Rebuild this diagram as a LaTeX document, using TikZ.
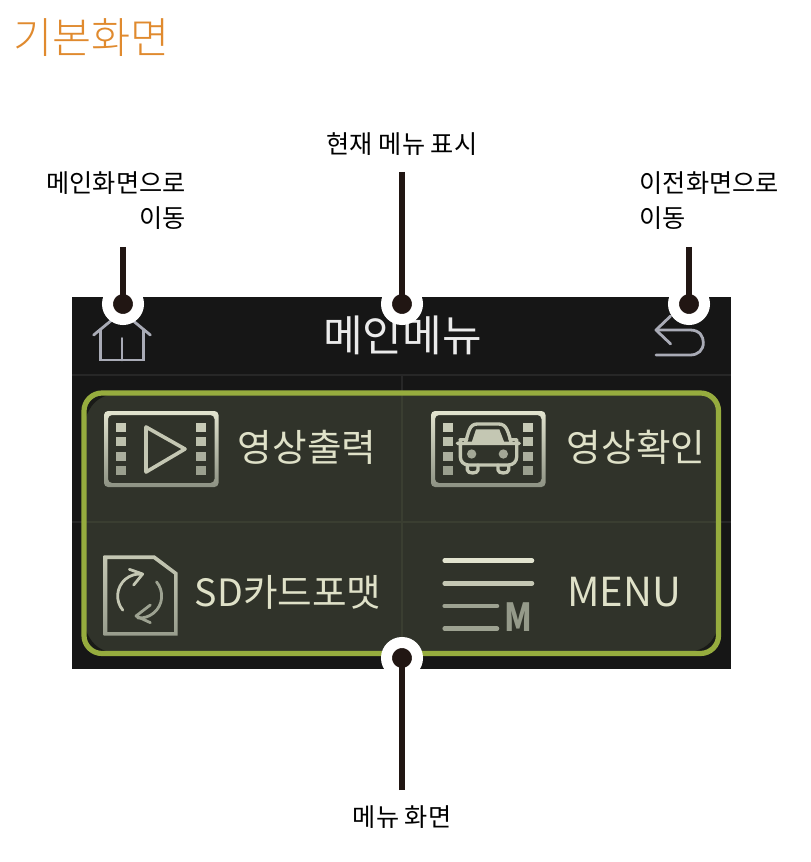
\documentclass[tikz,border=0pt]{standalone}
\usepackage{fontspec}
\setmainfont{Noto Sans CJK KR}
\newfontfamily\lightcjk{Noto Sans CJK KR Light}
\definecolor{panelbg}{HTML}{161616}
\definecolor{cellbg}{HTML}{30332A}
\definecolor{gridin}{HTML}{3A3E31}
\definecolor{gridout}{HTML}{272727}
\definecolor{limegreen}{HTML}{96AC3E}
\definecolor{markblack}{HTML}{211613}
\definecolor{titleorange}{HTML}{E08A2E}
\definecolor{creamtext}{HTML}{DFE1C8}
\definecolor{icona}{HTML}{E2E4CF}
\definecolor{iconb}{HTML}{8D9283}
\definecolor{iconc}{HTML}{C4C7B3}
\definecolor{greyicon}{HTML}{A9ABB6}
\definecolor{cornershade}{HTML}{191A17}
\tikzset{
  marker/.style={circle,inner sep=0pt,minimum size=23.25pt,fill=markblack,draw=white,line width=8.25pt},
  leader/.style={draw=markblack,line width=4.2pt},
  callout/.style={inner sep=0pt,font=\fontsize{18.9}{26.2}\selectfont,text=black},
  menutext/.style={inner sep=0pt,text=creamtext,font=\fontsize{28.2}{30}\selectfont},
  iconline/.style={draw=iconc,line width=2.5pt,line cap=round,line join=round},
  homeline/.style={draw=greyicon,line width=2.1pt,line cap=round,line join=miter},
}
\newcommand{\filmframe}[1]{%
  \begin{scope}[shift={(#1,0)}]
  \shade[top color=icona,bottom color=iconb,even odd rule,rounded corners=3pt]
    (0,411) rectangle (114.5,487) (4,415) rectangle (110.5,483);
  \foreach \yy/\cc in {423/C8CBB7,437/BCC0AC,452/ABAF9E,466/9A9F8E}{
    \definecolor{sqc}{HTML}{\cc}
    \fill[sqc] (12,\yy) rectangle (21.5,\yy+8.5);
    \fill[sqc] (92,\yy) rectangle (101.5,\yy+8.5);
  }
  \end{scope}}
\begin{document}
\begin{tikzpicture}[x=.75pt,y=-.75pt]
\useasboundingbox[fill=white] (0,0) rectangle (810,862);
% title
\node[anchor=west,inner sep=0pt,text=titleorange,font=\lightcjk\fontsize{31.9}{34}\selectfont] (title) at (13,38) {기본화면};
% panel
\fill[panelbg] (72,297) rectangle (731,669);
\draw[gridout,line width=.9pt] (72,375) -- (731,375);
\draw[gridout,line width=.9pt] (402,375) -- (402,669);
\draw[gridout,line width=.9pt] (72,522) -- (731,522);
\fill[cellbg,rounded corners=13.5pt] (84,393) rectangle (718.5,653.5);
\draw[gridin,line width=.9pt] (402,393) -- (402,653);
\draw[gridin,line width=.9pt] (84,522) -- (718,522);
% inner shadow at the corners
\fill[cornershade] (85,420) .. controls (85,402) and (93,394) .. (112,394) .. controls (98,397) and (90,404) .. (85,420) -- cycle;
\fill[cornershade] (85,628) .. controls (85,645) and (93,652) .. (110,652) .. controls (98,650) and (90,642) .. (85,628) -- cycle;
\fill[cornershade] (717,630) .. controls (717,645) and (709,652) .. (690,652) .. controls (704,650) and (713,643) .. (717,630) -- cycle;
\draw[limegreen,line width=3.9pt,rounded corners=13.5pt] (84,393) rectangle (718.5,653.5);
% home icon
\begin{scope}[shift={(72,280)},x=.25pt,y=-.25pt]
\draw[homeline] (65,165) -- (150,95) -- (235,165);
\draw[homeline] (85,148) -- (85,240) -- (215,240) -- (215,148);
\draw[homeline] (150,175) -- (150,240);
\end{scope}
% back icon
\begin{scope}[shift={(400,280)},x=.25pt,y=-.25pt]
\draw[homeline,line join=round] (812,108) -- (768,150) -- (812,192);
\draw[homeline] (768,150) -- (870,150) .. controls (900,150) and (910,170) .. (910,188) .. controls (910,210) and (895,225) .. (870,225) -- (768,225);
\end{scope}
% header
\node[inner sep=0pt,text=white!92!black,font=\fontsize{32.3}{34}\selectfont] (header) at (402.5,335) {메인메뉴};
% film frame 1
\filmframe{104}
\draw[iconline,line width=2.7pt] (146,427) -- (185,449) -- (146,472) -- cycle;
\node[menutext] (t1) at (307,447) {영상출력};
% film frame 2 with car
\filmframe{431}
\begin{scope}[shift={(400,280)},x=.25pt,y=-.25pt]
\fill[iconc] (214,490) -- (228,448) -- (298,448) -- (314,490) -- cycle;
\draw[iconline] (196,490) .. controls (206,455) and (208,432) .. (232,432) -- (296,432) .. controls (320,432) and (324,455) .. (334,490);
\draw[iconline,rounded corners=6pt] (181,555) -- (181,505) .. controls (181,495) and (190,490) .. (196,490) -- (334,490) .. controls (342,490) and (350,495) .. (350,505) -- (350,555) -- cycle;
\draw[iconline] (180,478) -- (200,478) (330,478) -- (350,478);
\draw[iconline] (202,555) -- (202,570) .. controls (202,582) and (234,582) .. (234,570) -- (234,555);
\draw[iconline] (294,555) -- (294,570) .. controls (294,582) and (326,582) .. (326,570) -- (326,555);
\fill[iconb!60!iconc] (215,522) circle (14);
\fill[iconb!60!iconc] (310,522) circle (14);
\end{scope}
\node[menutext] (t2) at (636,447) {영상확인};
% SD icon
\begin{scope}[shift={(72,510)},x=.25pt,y=-.25pt]
\shade[top color=iconc,bottom color=iconb!80!iconc,even odd rule]
 (95,136) -- (248,136) -- (317,188) -- (317,377) -- (95,377) -- cycle
 (106,147) -- (244,147) -- (306,193) -- (306,366) -- (106,366) -- cycle;
\draw[iconline,line width=2.1pt] (152.4,300.4) arc[start angle=140,end angle=275,radius=66];
\draw[iconline,line width=2.1pt] (172,178) -- (212,192) -- (185,225);
\draw[iconline,line width=2.1pt,draw=iconb!70!iconc] (253.6,215.6) arc[start angle=320,end angle=455,radius=66];
\draw[iconline,line width=2.1pt,draw=iconb!70!iconc] (235,285) -- (192,318) -- (235,338);
\end{scope}
\node[menutext,anchor=west] (t3) at (194.5,592) {SD카드포맷};
% menu icon
\begin{scope}[shift={(400,510)},x=.25pt,y=-.25pt]
\draw[line width=3.4pt,line cap=round,draw=icona] (134,152) -- (396,152);
\draw[line width=3.4pt,line cap=round,draw=iconc] (134,220) -- (396,220);
\draw[line width=3.4pt,line cap=round,draw=iconb!70!iconc] (134,288) -- (291,288);
\draw[line width=3.4pt,line cap=round,draw=iconb!70!iconc] (134,356) -- (291,356);
\node[inner sep=0pt,text=iconb!85!iconc,xscale=.82,font=\bfseries\fontsize{29}{30}\selectfont] (mm) at (355,321) {M};
\end{scope}
\node[menutext,anchor=west,font=\fontsize{30}{34}\selectfont] (t4) at (567,592) {MENU};
% callouts
\node[callout,anchor=east,align=right] (lhome) at (186,200.5) {메인화면으로\\이동};
\node[callout] (ltop) at (402,144) {현재 메뉴 표시};
\node[callout,anchor=west,align=left] (lback) at (639.5,200.5) {이전화면으로\\이동};
\node[callout] (lbot) at (402,817) {메뉴 화면};
\node[marker] (mhome) at (123,304) {};
\node[marker] (mtop) at (402,304) {};
\node[marker] (mback) at (689,304) {};
\node[marker] (mbot) at (402,658) {};
\coordinate (ehome) at (123,247);
\coordinate (etop) at (402,172);
\coordinate (eback) at (689,247);
\coordinate (ebot) at (402,790);
\draw[leader] (ehome) -- (mhome.center);
\draw[leader] (etop) -- (mtop.center);
\draw[leader] (eback) -- (mback.center);
\draw[leader] (ebot) -- (mbot.center);
\end{tikzpicture}
\end{document}
